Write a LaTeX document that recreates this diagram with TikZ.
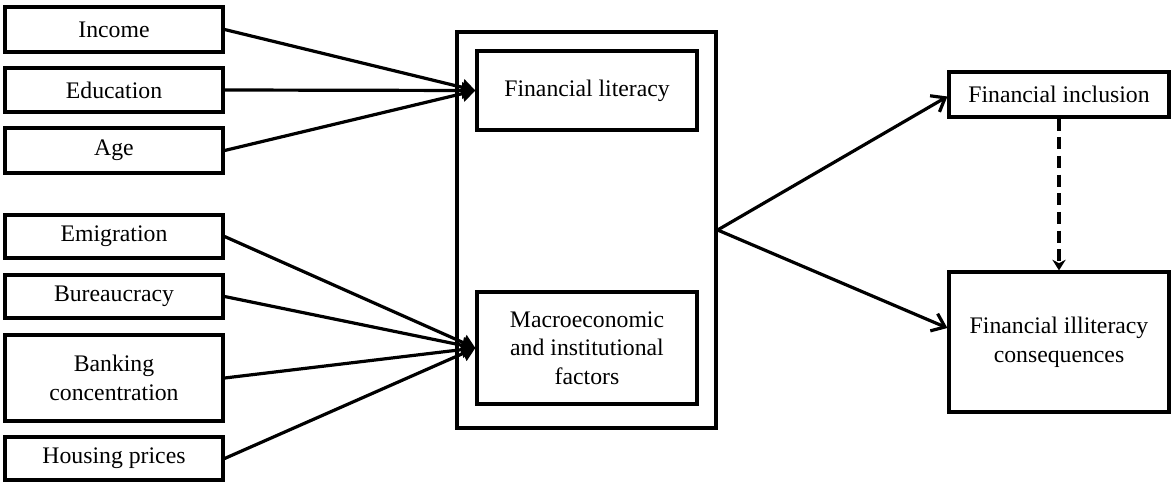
\documentclass[tikz,border=0pt]{standalone}
\usepackage{fontspec}
\setmainfont{Liberation Serif}
\usepackage{tikz}
\usetikzlibrary{arrows.meta}

\begin{document}
\begin{tikzpicture}[x=0.75pt,y=-0.75pt,
  box/.style={draw,line width=2.4pt,inner sep=0pt,align=center,minimum width=163.5pt,minimum height=#1,font=\fontsize{17.8}{21.5}\selectfont},
  box/.default=33pt,
  midbox/.style={box=#1,minimum width=165pt},
  feed/.style={line width=2.4pt,-{Triangle[length=10pt,width=12pt]}},
  lead/.style={line width=2.4pt,-{Straight Barb[length=9pt,width=14pt]}}]
      \useasboundingbox (0,0) rectangle (1173,482);
      \node[box=33.75pt](income) at (114,29.5){Income};
      \node[box=33pt](education) at (114,90){Education};
      \node[box=33.75pt](age) at (114,150.5){Age};
      \node[box=32.25pt](emigration) at (114,236.5){Emigration};
      \node[box=32.25pt](bureaucracy) at (114,296.5){Bureaucracy};
      \node[box=64.5pt](banking) at (114,378){Banking\\concentration};
      \node[box=32.25pt](housing) at (114,458.5){Housing prices};
      \node[draw,line width=2.4pt,minimum width=194.25pt,minimum height=297pt](outer) at (586.5,230){};
      \node[midbox=59.25pt](literacy) at (587,90.5){Financial literacy};
      \node[midbox=84pt](macro) at (587,348){Macroeconomic\\and institutional\\factors};
      \node[midbox=33.75pt](inclusion) at (1059,94.5){Financial inclusion};
      \node[midbox=105pt](consequences) at (1059,342){Financial illiteracy\\consequences};
      \foreach \src in {income,education,age}
        \draw[feed] (\src.east) -- (literacy.west);
      \foreach \src in {emigration,bureaucracy,banking,housing}
        \draw[feed] (\src.east) -- (macro.west);
      \draw[lead] (outer.east) -- ([yshift=-1.5pt]inclusion.west);
      \draw[lead] (outer.east) -- ([yshift=10.5pt]consequences.west);
      \draw[line width=2.4pt,dash pattern=on 9pt off 5pt,-{Stealth[length=8pt,width=10pt]}] (inclusion.south) -- (consequences.north);
    \end{tikzpicture}
\end{document}
